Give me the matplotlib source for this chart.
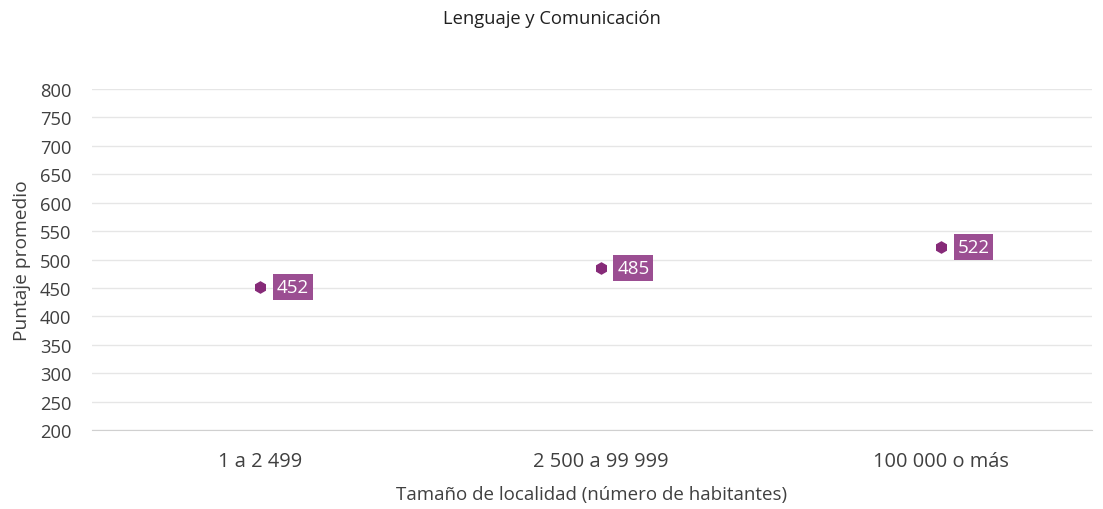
import matplotlib
matplotlib.use("Agg")
import matplotlib.pyplot as plt

categories = ["1 a 2 499", "2 500 a 99 999", "100 000 o más"]
values = [452, 485, 522]
yticks = list(range(200, 801, 50))

plt.rcParams['font.family'] = ['Open Sans', 'DejaVu Sans']

fig = plt.figure(figsize=(11.03, 5.10), dpi=100)
ax = fig.add_axes([92/1103, 1-431/510, 1000/1103, 341/510])

x = list(range(len(categories)))
ax.plot(x, values, linestyle='none', marker='h', markersize=8, color='#862A78', zorder=3)
for xi, v in zip(x, values):
    ax.annotate(str(v), (xi, v), xytext=(12, 0), textcoords='offset points',
                ha='left', va='center', color='white', fontsize=13.5,
                bbox=dict(boxstyle='square,pad=0.2', fc='#9B4E92', ec='none'))

ax.set_ylim(200, 800)
ax.set_yticks(yticks)
ax.set_xlim(-(260-92)/340.5, (1092-260)/340.5)
ax.set_xticks(x)
ax.set_xticklabels(categories, fontsize=14.4, color='#404040')
ax.tick_params(axis='y', labelsize=13.2, labelcolor='#404040', length=0, pad=15)
ax.tick_params(axis='x', length=0, pad=15)
ax.grid(axis='y', color='#E6E6E6', linewidth=1)
ax.set_axisbelow(True)
for s in ['top', 'right', 'left']:
    ax.spines[s].set_visible(False)
ax.spines['bottom'].set_color('#D0D0D0')

ax.set_ylabel("Puntaje promedio", fontsize=13.8, color='#404040', labelpad=6)
ax.set_xlabel("Tamaño de localidad (número de habitantes)", fontsize=13.5, color='#404040', labelpad=10)
fig.text(0.5, 1-19/510, "Lenguaje y Comunicación", ha='center', va='center', fontsize=13.2, color='#202020')

fig.savefig("out.png", dpi=100)
